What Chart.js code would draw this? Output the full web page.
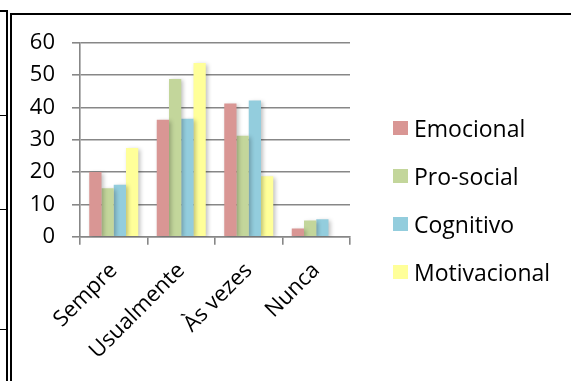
<!DOCTYPE html>
<html lang="pt">
<head>
<meta charset="utf-8">
<title>Dimensões por frequência</title>
<script src="https://cdn.jsdelivr.net/npm/chart.js@4/dist/chart.umd.min.js"></script>
<style>
  html, body { margin: 0; padding: 0; background: #fff; }
  #wrap { position: relative; width: 571px; height: 381px; overflow: hidden; font-family: "Open Sans", sans-serif; }
  #chart { position: absolute; left: 0; top: 0; }
  .rule { position: absolute; background: #000; }
  #legend { position: absolute; left: 393px; top: 104px; }
  .item { display: flex; align-items: center; height: 48.1px; font-size: 23px; color: #000; white-space: nowrap; }
  .swatch { width: 15px; height: 14px; margin-right: 6px; flex: none; }
</style>
</head>
<body>
<div id="wrap">
  <canvas id="chart" width="571" height="381"></canvas>
  <!-- page table rules and chart frame -->
  <div class="rule" style="left:0;top:10px;width:7px;height:1.5px"></div>
  <div class="rule" style="left:0;top:114.5px;width:7px;height:1.5px"></div>
  <div class="rule" style="left:0;top:208.5px;width:7px;height:1.5px"></div>
  <div class="rule" style="left:0;top:328.5px;width:7px;height:1.5px"></div>
  <div class="rule" style="left:6px;top:10px;width:1.5px;height:371px"></div>
  <div class="rule" style="left:10px;top:12.5px;width:561px;height:2px"></div>
  <div class="rule" style="left:10px;top:12.5px;width:1.8px;height:369px"></div>
  <div id="legend"></div>
</div>
<script>
// Answer categories
const categories = ['Sempre', 'Usualmente', 'Às vezes', 'Nunca'];

// Percentage of answers per dimension
const emocional    = [20.0, 36.2, 41.2, 2.5];
const proSocial    = [15.0, 48.8, 31.2, 5.0];
const cognitivo    = [16.1, 36.5, 42.1, 5.4];
const motivacional = [27.4, 53.7, 18.7, 0.0];

// Value axis ticks
const yTicks = [0, 10, 20, 30, 40, 50, 60];

const seriesNames  = ['Emocional', 'Pro-social', 'Cognitivo', 'Motivacional'];
const seriesValues = [emocional, proSocial, cognitivo, motivacional];
const seriesColors = ['#D99694', '#C3D69B', '#93CDDD', '#FFFF99'];

const FONT = '"Open Sans", sans-serif';
const AXIS_GRAY = '#878787';

// Soft drop shadow behind the bars
const barShadow = {
  id: 'barShadow',
  beforeDatasetsDraw(chart) {
    const c = chart.ctx;
    c.save();
    c.shadowColor = 'rgba(0,0,0,0.25)';
    c.shadowBlur = 4;
    c.shadowOffsetX = 2;
    c.shadowOffsetY = 1.5;
  },
  afterDatasetsDraw(chart) {
    chart.ctx.restore();
  }
};

const chart = new Chart(document.getElementById('chart'), {
  type: 'bar',
  data: {
    labels: categories,
    datasets: seriesNames.map((name, i) => ({
      label: name,
      data: seriesValues[i],
      backgroundColor: seriesColors[i],
      borderWidth: 0,
      categoryPercentage: 0.726,
      barPercentage: 1.0
    }))
  },
  options: {
    responsive: false,
    animation: false,
    devicePixelRatio: 1,
    layout: { padding: { left: 0, top: 42.7, right: 221, bottom: 0 } },
    plugins: {
      legend: { display: false },
      tooltip: { enabled: false }
    },
    scales: {
      x: {
        grid: {
          offset: true,
          drawOnChartArea: false,
          drawTicks: true,
          tickLength: 8,
          color: AXIS_GRAY,
          lineWidth: 1.6
        },
        border: { color: AXIS_GRAY, width: 1.6 },
        ticks: {
          color: '#000',
          font: { family: FONT, size: 22 },
          minRotation: 45,
          maxRotation: 45,
          padding: 13,
          autoSkip: false
        },
        afterFit(scale) { scale.height = 144.3; }
      },
      y: {
        min: 0,
        max: 60,
        afterBuildTicks(scale) { scale.ticks = yTicks.map(v => ({ value: v })); },
        grid: {
          color: AXIS_GRAY,
          lineWidth: 1.6,
          tickLength: 8,
          drawTicks: true
        },
        border: { color: AXIS_GRAY, width: 1.6 },
        ticks: {
          color: '#000',
          font: { family: FONT, size: 22 },
          padding: 17
        },
        afterFit(scale) { scale.width = 80; }
      }
    }
  },
  plugins: [barShadow]
});

// Legend built from the chart's datasets
const legend = document.getElementById('legend');
chart.data.datasets.forEach(ds => {
  const row = document.createElement('div');
  row.className = 'item';
  const sw = document.createElement('span');
  sw.className = 'swatch';
  sw.style.background = ds.backgroundColor;
  const txt = document.createElement('span');
  txt.textContent = ds.label;
  row.appendChild(sw);
  row.appendChild(txt);
  legend.appendChild(row);
});
</script>
</body>
</html>
